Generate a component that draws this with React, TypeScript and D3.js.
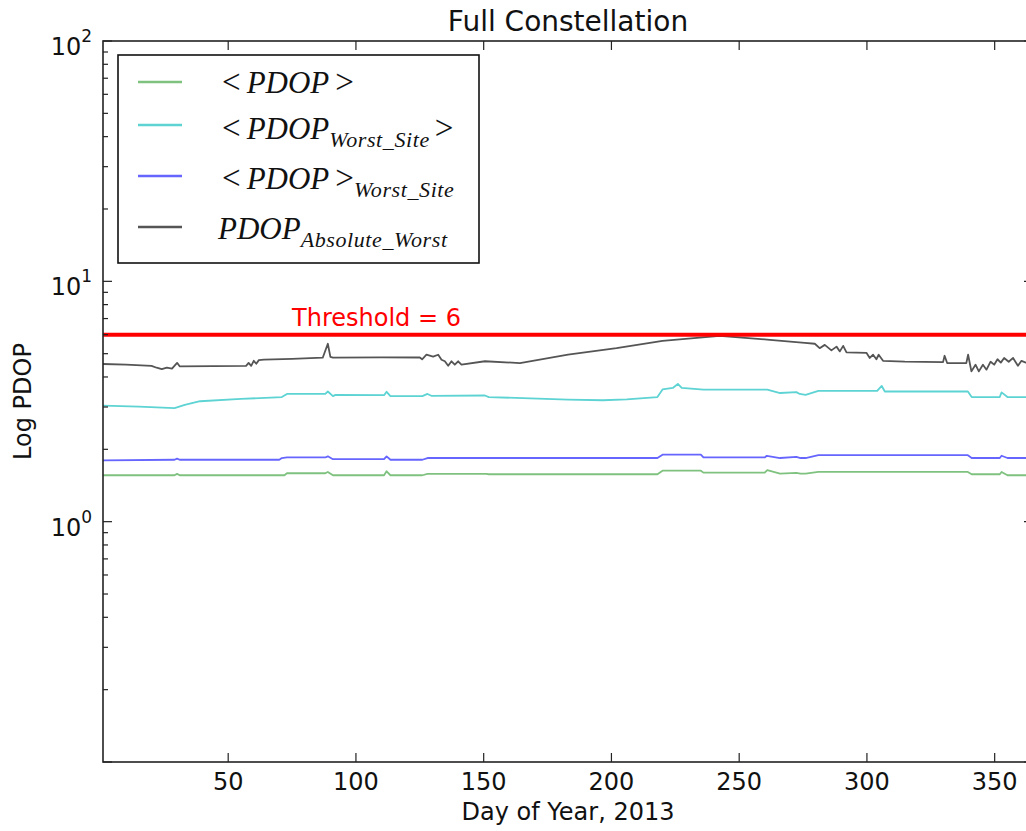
import * as d3 from "d3";
import { useEffect, useRef } from "react";

// [day of year, PDOP]
const pdopMean: [number, number][] = [
  [1, 1.56], [29, 1.56], [30, 1.58], [31, 1.56], [72, 1.56], [73, 1.59], [88, 1.59],
  [89, 1.61], [91, 1.56], [111, 1.56], [112, 1.62], [113.5, 1.56], [126, 1.56],
  [128, 1.58], [151, 1.58], [152, 1.575], [218, 1.575], [220, 1.63], [235, 1.63],
  [236, 1.6], [260, 1.6], [261, 1.64], [266, 1.585], [272.4, 1.595], [274, 1.585],
  [276, 1.585], [281, 1.61], [339.5, 1.61], [341, 1.575], [352, 1.575], [352.7, 1.61],
  [355, 1.56], [365, 1.56],
];

const pdopWorstSiteMean: [number, number][] = [
  [1, 3.04], [15, 3.01], [29, 2.97], [33, 3.06], [39, 3.17], [55, 3.24], [71, 3.3],
  [73, 3.4], [88, 3.4], [89, 3.48], [91, 3.33], [92, 3.37], [111, 3.36], [112, 3.47],
  [113.5, 3.33], [126, 3.33], [128, 3.4], [129.5, 3.34], [150.5, 3.35], [152, 3.3],
  [183, 3.22], [196.6, 3.2], [206, 3.23], [218, 3.3], [220, 3.55], [224, 3.6],
  [226, 3.74], [227.5, 3.6], [236, 3.54], [261, 3.54], [266, 3.43], [272.4, 3.46],
  [273.7, 3.4], [276, 3.37], [281, 3.5], [304, 3.5], [305.8, 3.67], [307, 3.48],
  [339.5, 3.48], [341, 3.3], [352, 3.3], [352.7, 3.45], [355, 3.3], [365, 3.3],
];

const pdopMeanWorstSite: [number, number][] = [
  [1, 1.8], [29, 1.81], [30, 1.83], [31, 1.81], [70, 1.81], [71, 1.84], [73, 1.85],
  [88, 1.85], [89, 1.87], [91, 1.82], [111, 1.82], [112, 1.87], [113.5, 1.81],
  [126, 1.81], [128, 1.84], [218, 1.84], [220, 1.9], [235, 1.9], [236, 1.85],
  [260, 1.85], [260.8, 1.88], [266, 1.84], [272.4, 1.86], [274, 1.84], [276, 1.84],
  [281, 1.89], [339.5, 1.89], [341, 1.84], [352, 1.84], [352.7, 1.88], [355, 1.84],
  [365, 1.84],
];

const pdopAbsoluteWorst: [number, number][] = [
  [1, 4.53], [10, 4.5], [20, 4.45], [22, 4.37], [24, 4.31], [26, 4.37], [28, 4.33],
  [30, 4.58], [31, 4.43], [57, 4.45], [58, 4.58], [59, 4.45], [60, 4.67], [61, 4.54],
  [62, 4.7], [64, 4.72], [75, 4.76], [87, 4.81], [89, 5.5], [90, 4.85], [91, 4.81],
  [110, 4.83], [125, 4.82], [125.9, 4.74], [127.6, 4.95], [130.2, 4.86], [132.2, 4.95],
  [133.5, 4.72], [134.8, 4.65], [136.1, 4.45], [137.4, 4.65], [138.7, 4.5], [140, 4.65],
  [141.3, 4.5], [150.5, 4.65], [164.2, 4.57], [183, 4.95], [202, 5.27], [220, 5.65],
  [242.4, 5.93], [262, 5.71], [275.7, 5.55], [279.6, 5.5], [281.5, 5.27], [283.5, 5.44],
  [286.1, 5.16], [288.1, 5.35], [289.4, 5.11], [290.7, 5.39], [292, 5.06], [299.8, 5.04],
  [301.1, 4.8], [302.4, 4.95], [303.7, 4.74], [304.6, 4.95], [306.3, 4.67], [314.8, 4.63],
  [329.8, 4.61], [330.4, 4.9], [331.4, 4.57], [338.9, 4.57], [339.6, 4.95], [340.9, 4.22],
  [342.5, 4.5], [343.8, 4.22], [345.4, 4.5], [346.8, 4.29], [348.4, 4.63], [349.8, 4.5],
  [351.1, 4.74], [352.4, 4.59], [353.7, 4.8], [355.5, 4.63], [357.2, 4.8], [359.1, 4.45],
  [360.5, 4.67], [362.2, 4.59], [365, 4.6],
];

const threshold = 6;
const xTicks = [50, 100, 150, 200, 250, 300, 350];
const yMajor = [0.1, 1, 10, 100];
const yLabelled = [1, 10, 100];

const series = [
  { data: pdopMean, color: "#7fc27f" },
  { data: pdopWorstSiteMean, color: "#5ed3d3" },
  { data: pdopMeanWorstSite, color: "#6666ff" },
  { data: pdopAbsoluteWorst, color: "#555555" },
];

export default function App() {
  const ref = useRef<SVGSVGElement>(null);

  const width = 1026;
  const height = 831;
  const left = 103;
  const right = 1033;
  const top = 41;
  const bottom = 762;

  useEffect(() => {
    const svg = d3.select(ref.current);
    svg.selectAll("*").remove();

    const x = d3.scaleLinear().domain([1, 365]).range([left, right]);
    const y = d3.scaleLog().domain([0.1, 100]).range([bottom, top]);

    const plot = svg.append("g");
    plot
      .append("rect")
      .attr("x", left)
      .attr("y", top)
      .attr("width", right - left)
      .attr("height", bottom - top)
      .attr("fill", "white");

    const line = d3
      .line<[number, number]>()
      .x((d) => x(d[0]))
      .y((d) => y(d[1]));

    series.forEach((s) => {
      plot
        .append("path")
        .datum(s.data)
        .attr("d", line)
        .attr("fill", "none")
        .attr("stroke", s.color)
        .attr("stroke-width", 1.8)
        .attr("stroke-linejoin", "round");
    });

    // threshold
    plot
      .append("line")
      .attr("x1", left)
      .attr("x2", right)
      .attr("y1", y(threshold))
      .attr("y2", y(threshold))
      .attr("stroke", "#ff0000")
      .attr("stroke-width", 4);
    plot
      .append("text")
      .attr("x", x(75))
      .attr("y", y(threshold) - 9)
      .attr("fill", "#ff0000")
      .attr("font-family", "DejaVu Sans")
      .attr("font-size", 24)
      .text("Threshold = 6");

    // frame
    plot
      .append("rect")
      .attr("x", left)
      .attr("y", top)
      .attr("width", right - left)
      .attr("height", bottom - top)
      .attr("fill", "none")
      .attr("stroke", "#222")
      .attr("stroke-width", 1.6);

    const ticks = svg.append("g").attr("stroke", "#222").attr("stroke-width", 1.2);
    xTicks.forEach((t) => {
      ticks.append("line").attr("x1", x(t)).attr("x2", x(t)).attr("y1", bottom).attr("y2", bottom - 9);
      ticks.append("line").attr("x1", x(t)).attr("x2", x(t)).attr("y1", top).attr("y2", top + 9);
    });
    yMajor.forEach((t) => {
      ticks.append("line").attr("x1", left).attr("x2", left + 9).attr("y1", y(t)).attr("y2", y(t));
      ticks.append("line").attr("x1", right).attr("x2", right - 9).attr("y1", y(t)).attr("y2", y(t));
    });
    [0.1, 1, 10].forEach((dec) => {
      d3.range(2, 10).forEach((m) => {
        const v = dec * m;
        ticks.append("line").attr("x1", left).attr("x2", left + 5).attr("y1", y(v)).attr("y2", y(v));
        ticks.append("line").attr("x1", right).attr("x2", right - 5).attr("y1", y(v)).attr("y2", y(v));
      });
    });

    const labels = svg
      .append("g")
      .attr("font-family", "DejaVu Sans")
      .attr("fill", "#111");

    xTicks.forEach((t) => {
      labels
        .append("text")
        .attr("x", x(t))
        .attr("y", 790)
        .attr("text-anchor", "middle")
        .attr("font-size", 24)
        .text(t);
    });

    yLabelled.forEach((t) => {
      const exp = Math.round(Math.log10(t));
      const txt = labels
        .append("text")
        .attr("x", 92)
        .attr("y", y(t) + 14)
        .attr("text-anchor", "end")
        .attr("font-size", 24);
      txt.append("tspan").text("10");
      txt
        .append("tspan")
        .attr("font-size", 17)
        .attr("dy", -13)
        .text(String(exp));
    });

    labels
      .append("text")
      .attr("x", (left + right) / 2)
      .attr("y", 31)
      .attr("text-anchor", "middle")
      .attr("font-size", 28)
      .text("Full Constellation");

    labels
      .append("text")
      .attr("x", (left + right) / 2)
      .attr("y", 820)
      .attr("text-anchor", "middle")
      .attr("font-size", 24)
      .text("Day of Year, 2013");

    labels
      .append("text")
      .attr("transform", `translate(31,${(top + bottom) / 2}) rotate(-90)`)
      .attr("text-anchor", "middle")
      .attr("font-size", 24)
      .text("Log PDOP");

    // legend
    const lg = svg.append("g");
    lg.append("rect")
      .attr("x", 118)
      .attr("y", 55)
      .attr("width", 361)
      .attr("height", 208)
      .attr("fill", "white")
      .attr("stroke", "#111")
      .attr("stroke-width", 1.6);

    const rows = [
      { ly: 82, by: 93, main: "<PDOP>", sub: "", tail: "", x0: 222 },
      { ly: 125, by: 139, main: "<PDOP", sub: "Worst_Site", tail: ">", x0: 222 },
      { ly: 176, by: 189, main: "<PDOP>", sub: "Worst_Site", tail: "", x0: 222 },
      { ly: 227, by: 239, main: "PDOP", sub: "Absolute_Worst", tail: "", x0: 218 },
    ];
    rows.forEach((r, i) => {
      lg.append("line")
        .attr("x1", 138)
        .attr("x2", 182)
        .attr("y1", r.ly)
        .attr("y2", r.ly)
        .attr("stroke", series[i].color)
        .attr("stroke-width", 2.5);
      const t = lg
        .append("text")
        .attr("x", r.x0)
        .attr("y", r.by)
        .attr("font-family", "Liberation Serif")
        .attr("font-style", "italic")
        .attr("font-size", 31)
        .attr("fill", "#111");
      const parts = r.main.match(/<|>|[^<>]+/g) || [];
      parts.forEach((p) => {
        const sp = t.append("tspan").text(p);
        if (p === "<" || p === ">") sp.attr("font-style", "normal").attr("font-size", 33);
        if (p === ">") sp.attr("dx", 6);
        if (p !== "<" && p !== ">" && r.main.startsWith("<")) sp.attr("dx", 6);
      });
      if (r.sub) {
        t.append("tspan")
          .attr("font-size", 22)
          .attr("letter-spacing", 0.6)
          .attr("dy", 8)
          .text(r.sub);
      }
      if (r.tail) {
        t.append("tspan")
          .attr("font-style", "normal")
          .attr("font-size", 33)
          .attr("dx", 5)
          .attr("dy", -8)
          .text(r.tail);
      }
    });
  }, []);

  return (
    <svg
      ref={ref}
      width={width}
      height={height}
      style={{ position: "absolute", left: 0, top: 0, background: "white" }}
    />
  );
}
